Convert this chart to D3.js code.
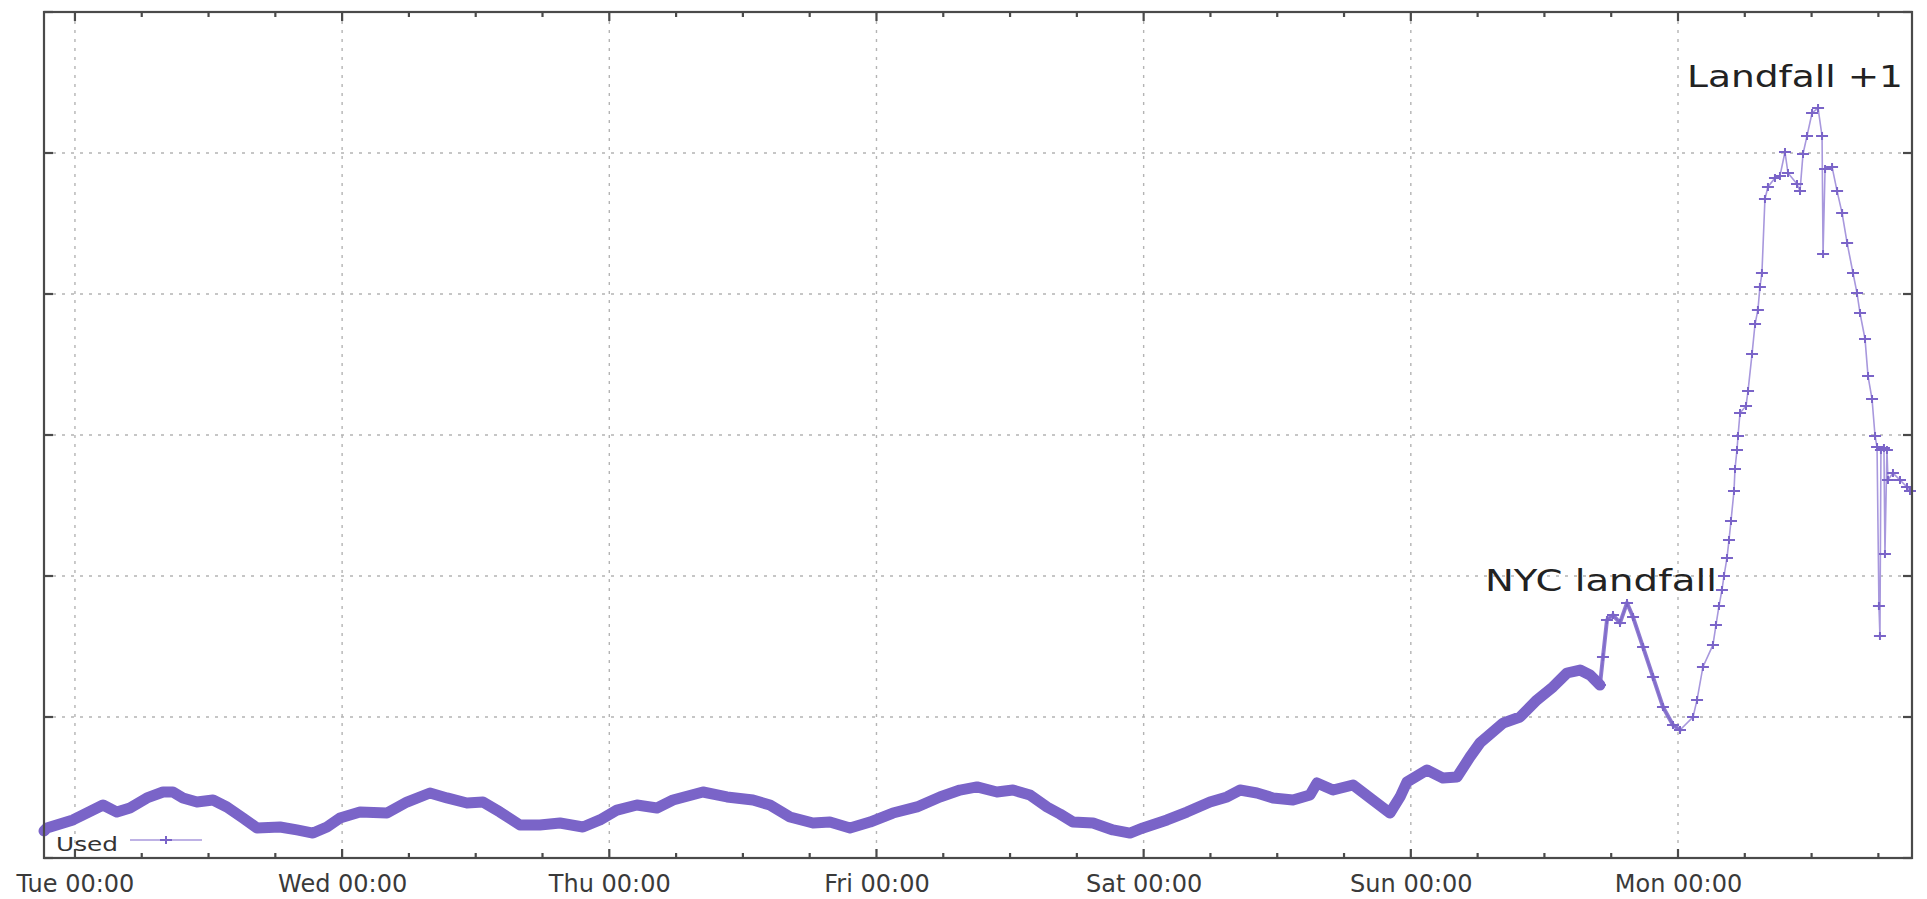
<!DOCTYPE html>
<html><head><meta charset="utf-8">
<script src="https://cdn.jsdelivr.net/npm/d3@7"></script>
<style>html,body{margin:0;padding:0;background:#fff;overflow:hidden}</style>
</head><body><svg id="c" width="1927" height="899"></svg>
<script>
// ---- data (hours since Tue 00:00, used in arbitrary units) ----
const hoursFromTue = [-2.78,-2.52,-0.18,2.52,3.77,4.94,6.47,7.91,8.80,9.70,10.96,12.40,13.65,15.09,16.35,18.42,19.94,21.38,22.64,23.81,
25.60,28.03,29.82,31.89,33.42,35.21,36.65,38.18,39.97,41.77,43.57,45.63,47.16,48.69,50.48,52.28,53.72,56.41,58.57,60.91,
62.43,64.23,66.30,67.82,69.62,71.42,73.48,75.64,77.70,79.50,81.03,82.82,84.26,85.79,87.32,88.48,89.65,91.45,93.24,94.77,
95.94,98.10,99.89,101.96,103.49,104.65,106.18,107.62,109.41,110.94,111.57,113.01,114.80,116.33,118.13,119.03,119.65,121.45,122.89,124.15,
125.31,126.21,128.28,129.81,131.33,132.77,134.03,135.20,136.09,136.99,137.26,137.62,138.16,138.79,139.42,139.96,140.86,141.75,142.65,143.55,
144.18,145.35,145.71,146.24,147.14,147.41,147.68,147.95,148.13,148.40,148.58,148.76,149.03,149.12,149.30,149.39,149.57,150.11,150.29,150.65,
150.92,151.18,151.36,151.54,151.81,152.08,152.71,153.16,153.61,153.88,154.69,154.96,155.23,155.59,156.04,156.58,156.94,157.03,157.21,157.84,
158.29,158.74,159.19,159.72,160.08,160.35,160.80,161.07,161.43,161.70,161.88,162.05,162.14,162.23,162.50,162.59,162.77,162.86,163.31,163.94,
164.57,164.84];
const usedValues = [1.91,2.13,2.70,3.76,3.26,3.55,4.26,4.68,4.68,4.26,3.97,4.11,3.62,2.84,2.13,2.20,1.99,1.77,2.20,2.84,
3.26,3.19,3.97,4.61,4.26,3.90,3.97,3.26,2.34,2.34,2.48,2.20,2.70,3.40,3.76,3.55,4.11,4.68,4.33,4.11,
3.76,2.91,2.48,2.55,2.13,2.55,3.19,3.62,4.33,4.82,5.04,4.68,4.82,4.47,3.62,3.12,2.55,2.48,1.99,1.77,
2.13,2.70,3.26,3.97,4.33,4.82,4.61,4.26,4.11,4.47,5.32,4.82,5.18,4.26,3.19,4.33,5.39,6.24,5.67,5.74,
7.16,8.16,9.57,10.00,11.21,12.13,13.12,13.33,12.98,12.27,14.26,16.88,17.23,16.67,18.09,17.09,14.96,12.84,10.71,9.43,
9.08,10.00,11.21,13.55,15.11,16.52,17.87,19.01,20.00,21.28,22.55,23.90,26.03,27.59,28.94,29.93,31.56,32.06,33.12,35.74,
37.87,38.87,40.50,41.49,46.74,47.59,48.23,48.37,50.07,48.58,47.80,47.30,49.93,51.21,52.84,53.19,51.21,42.84,48.87,49.01,
47.30,45.74,43.62,41.49,40.07,38.65,36.81,34.18,32.55,29.93,29.15,17.87,15.74,28.94,29.08,21.56,28.94,26.81,27.30,26.81,
26.31,26.03];
const dayTickLabels = ["Tue 00:00","Wed 00:00","Thu 00:00","Fri 00:00","Sat 00:00","Sun 00:00","Mon 00:00"];
const yTickValues = [0,10,20,30,40,50,60];
const seriesName = "Used";
const annotationTexts = ["NYC landfall","Landfall +1"];
const annotationHours = [126.66,144.81];
const annotationValues = [18.94,54.68];
const domainHours = [-2.78,165.02];
const denseUntilHour = 137.0;
const semiDenseUntilHour = 144.2;

// ---- setup ----
const base = Date.UTC(2012,9,23);
const T = h => new Date(base + h*3600e3);
const data = hoursFromTue.map((h,i)=>({t:T(h),h,v:usedValues[i]}));
const L=44,R=1912,Tp=12,B=858;
const x = d3.scaleUtc().domain(domainHours.map(T)).range([L,R]);
const y = d3.scaleLinear().domain([0,60]).range([B,Tp]);
const svg = d3.select("#c");
const font = "DejaVu Sans, sans-serif";
const purple="#7a64c8", lav="#a898dd";
const dayTicks = dayTickLabels.map((_,i)=>T(24*i));
const minorTicks = d3.utcHour.every(6).range(T(domainHours[0]),T(domainHours[1]));

// grid
const g = svg.append("g");
g.selectAll(".vg").data(dayTicks).join("line")
 .attr("x1",d=>x(d)).attr("x2",d=>x(d)).attr("y1",Tp).attr("y2",B)
 .attr("stroke","#b4b4b4").attr("stroke-width",1.4).attr("stroke-dasharray","3,6");
g.selectAll(".hg").data(yTickValues.slice(1,-1)).join("line")
 .attr("x1",L).attr("x2",R).attr("y1",d=>y(d)).attr("y2",d=>y(d))
 .attr("stroke","#b4b4b4").attr("stroke-width",1.4).attr("stroke-dasharray","3,6");

// series
const line = d3.line().x(d=>x(d.t)).y(d=>y(d.v));
svg.append("path").datum(data).attr("d",line).attr("fill","none")
 .attr("stroke",lav).attr("stroke-width",1.6);
svg.append("path").datum(data.filter(d=>d.h>=denseUntilHour-0.01 && d.h<=semiDenseUntilHour))
 .attr("d",line).attr("fill","none").attr("stroke",purple).attr("stroke-width",4)
 .attr("stroke-linejoin","round").attr("stroke-linecap","round").attr("opacity",0.85);
svg.append("path").datum(data.filter(d=>d.h<=denseUntilHour))
 .attr("d",line).attr("fill","none").attr("stroke",purple).attr("stroke-width",11)
 .attr("stroke-linejoin","round").attr("stroke-linecap","round");
svg.selectAll(".mk").data(data.filter(d=>d.h>denseUntilHour-8)).join("path")
 .attr("transform",d=>`translate(${x(d.t)},${y(d.v)})`)
 .attr("d","M-6,0H6M0,-4V4").attr("stroke",purple).attr("stroke-width",2).attr("fill","none");

// frame & ticks
const ax = svg.append("g").attr("stroke","#4a4a4a").attr("stroke-width",2.2);
ax.append("rect").attr("x",L).attr("y",Tp).attr("width",R-L).attr("height",B-Tp).attr("fill","none");
minorTicks.forEach(d=>{
  const isDay = d.getUTCHours()===0;
  const len = isDay?9:5;
  ax.append("line").attr("x1",x(d)).attr("x2",x(d)).attr("y1",B).attr("y2",B-len);
  ax.append("line").attr("x1",x(d)).attr("x2",x(d)).attr("y1",Tp).attr("y2",Tp+len);
});
yTickValues.forEach(v=>{
  ax.append("line").attr("x1",L).attr("x2",L+9).attr("y1",y(v)).attr("y2",y(v));
  ax.append("line").attr("x1",R).attr("x2",R-9).attr("y1",y(v)).attr("y2",y(v));
});

// x labels via axis
const xAxis = d3.axisBottom(x).tickValues(dayTicks).tickSize(0).tickPadding(16)
  .tickFormat((d,i)=>dayTickLabels[i]);
const xa = svg.append("g").attr("transform",`translate(0,${B+1})`).call(xAxis);
xa.select(".domain").remove();
xa.selectAll("text").attr("font-family",font).attr("font-size",24).attr("fill","#3a3a3a");

// annotations
annotationTexts.forEach((s,i)=>{
  const t = svg.append("text").attr("x",x(T(annotationHours[i]))).attr("y",y(annotationValues[i]))
   .attr("font-family",font).attr("font-size",i?30:31).attr("fill","#222").text(s);
  t.attr("textLength", i?216:232).attr("lengthAdjust","spacingAndGlyphs");
});

// legend
svg.append("text").attr("x",56).attr("y",851).attr("font-family",font).attr("font-size",20)
 .attr("fill","#333").attr("textLength",62).attr("lengthAdjust","spacingAndGlyphs").text(seriesName);
svg.append("line").attr("x1",130).attr("x2",202).attr("y1",840).attr("y2",840).attr("stroke",lav).attr("stroke-width",1.6);
svg.append("path").attr("transform","translate(166,840)").attr("d","M-6,0H6M0,-4V4").attr("stroke",purple).attr("stroke-width",2);
</script></body></html>
